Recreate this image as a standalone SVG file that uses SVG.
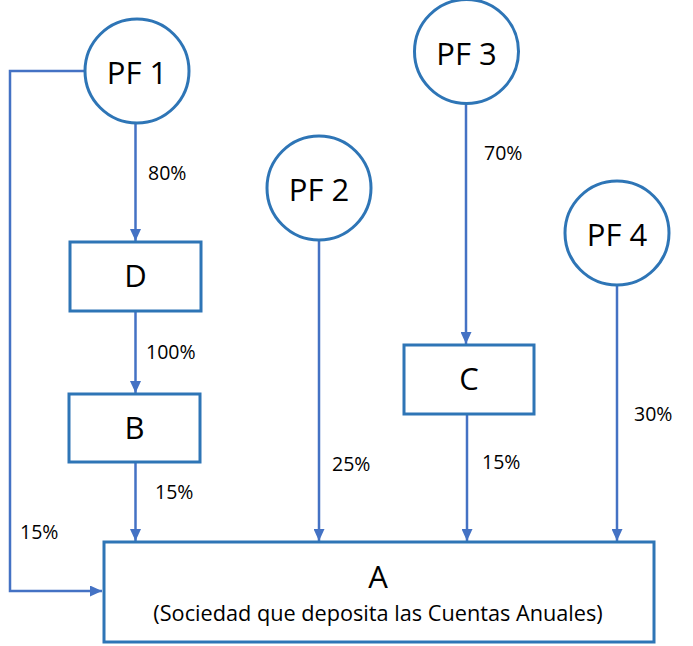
<svg xmlns="http://www.w3.org/2000/svg" width="693" height="646" viewBox="0 0 693 646">
<style>
.node{fill:#fff;stroke:#2E75B6;stroke-width:3}
.big{font-family:"Open Sans","Noto Sans",sans-serif;font-size:31px;fill:#000;text-anchor:middle}
.lbl{font-family:"Open Sans","Noto Sans",sans-serif;font-size:19.5px;fill:#000}
.sub{font-family:"Open Sans","Noto Sans",sans-serif;font-size:21.7px;fill:#000;text-anchor:middle}
.edge{fill:none;stroke:#4472C4;stroke-width:2.5}
</style>
<defs>
<marker id="arr" viewBox="0 0 12 11" refX="12" refY="5.5" markerWidth="12" markerHeight="11" markerUnits="userSpaceOnUse" orient="auto">
<path d="M0,0 L12,5.5 L0,11 Z" fill="#4472C4"/>
</marker>
</defs>
<rect width="693" height="646" fill="#fff"/>
<g id="connectors">
<path class="edge" d="M84,71 H10 V591 H102" marker-end="url(#arr)"/>
<line class="edge" x1="135.5" y1="123" x2="135.5" y2="241" marker-end="url(#arr)"/>
<line class="edge" x1="135.5" y1="311" x2="135.5" y2="393" marker-end="url(#arr)"/>
<line class="edge" x1="135.5" y1="462" x2="135.5" y2="541" marker-end="url(#arr)"/>
<line class="edge" x1="319" y1="240" x2="319" y2="541" marker-end="url(#arr)"/>
<line class="edge" x1="466" y1="103" x2="466" y2="344" marker-end="url(#arr)"/>
<line class="edge" x1="467" y1="414" x2="467" y2="541" marker-end="url(#arr)"/>
<line class="edge" x1="617" y1="285" x2="617" y2="541" marker-end="url(#arr)"/>
<text class="lbl" x="148" y="180">80%</text>
<text class="lbl" x="146" y="359">100%</text>
<text class="lbl" x="155" y="499">15%</text>
<text class="lbl" x="20" y="539">15%</text>
<text class="lbl" x="332" y="471">25%</text>
<text class="lbl" x="484" y="160">70%</text>
<text class="lbl" x="482" y="469">15%</text>
<text class="lbl" x="634" y="421">30%</text>
</g>
<g id="PF1"><circle class="node" cx="137" cy="71" r="52"/><text class="big" x="137" y="84">PF 1</text></g>
<g id="PF2"><circle class="node" cx="319" cy="188" r="52"/><text class="big" x="319" y="201">PF 2</text></g>
<g id="PF3"><circle class="node" cx="466.5" cy="51.5" r="52"/><text class="big" x="466.5" y="64.5">PF 3</text></g>
<g id="PF4"><circle class="node" cx="617" cy="233" r="52"/><text class="big" x="617" y="246">PF 4</text></g>
<g id="D"><rect class="node" x="70" y="242" width="131" height="69"/><text class="big" x="135.5" y="287">D</text></g>
<g id="B"><rect class="node" x="69" y="394" width="131" height="68"/><text class="big" x="134.5" y="439">B</text></g>
<g id="C"><rect class="node" x="404" y="345" width="130" height="69"/><text class="big" x="469" y="390">C</text></g>
<g id="A"><rect class="node" x="104" y="542" width="550" height="100"/><text class="big" x="378" y="588">A</text><text class="sub" x="378" y="621">(Sociedad que deposita las Cuentas Anuales)</text></g>
</svg>
